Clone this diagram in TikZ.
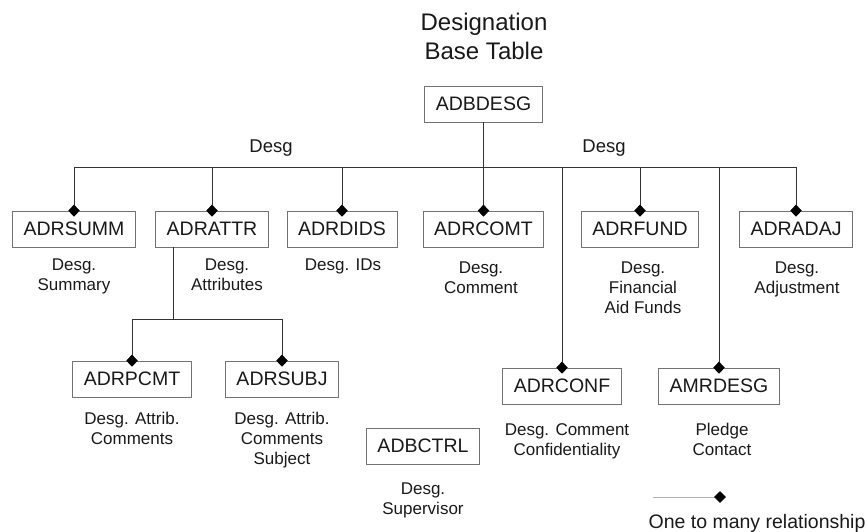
\documentclass[tikz,border=0pt]{standalone}
\usepackage{fontspec}
\setmainfont{Liberation Sans}
\usetikzlibrary{arrows.meta,calc}
\begin{document}
\begin{tikzpicture}[x=1pt,y=-1pt,
  table/.style={draw=black!55, line width=0.7pt, fill=white, minimum height=36pt,
    inner xsep=11pt, inner ysep=0pt, font=\fontsize{19.5}{22}\selectfont, text=black!90},
  caption/.style={anchor=north, inner sep=0pt, align=center,
    font=\fontsize{17}{20}\selectfont, text=black!90},
  link/.style={line width=0.8pt, draw=black!80},
  onemany/.style={link, -{Diamond[length=12pt,width=11.5pt,color=black]}, shorten >=-6pt},
]
\useasboundingbox (0,0) rectangle (867,531);

% title
\node[anchor=north, inner sep=0pt, align=center, font=\fontsize{24}{29}\selectfont, text=black!90]
  (title) at (484,13) {Designation\\Base Table};

% tables
\node[table] (desg) at (483.5,104) {ADBDESG};
\node[table] (summ) at (74,229)  {ADRSUMM};
\node[table] (attr) at (212,229) {ADRATTR};
\node[table] (dids) at (342,229) {ADRDIDS};
\node[table] (comt) at (483.5,229) {ADRCOMT};
\node[table] (fund) at (640,229) {ADRFUND};
\node[table] (adaj) at (796,229) {ADRADAJ};
\node[table] (pcmt) at (132,379) {ADRPCMT};
\node[table] (subj) at (282,379) {ADRSUBJ};
\node[table] (conf) at (562,386) {ADRCONF};
\node[table] (amr)  at (719,386) {AMRDESG};
\node[table] (ctrl) at (423,446) {ADBCTRL};

% captions
\node[caption] (csumm) at (74,259)  {Desg.\\Summary};
\node[caption] (cattr) at (227,259) {Desg.\\Attributes};
\node[caption] (cdids) at (343,259) {Desg. IDs};
\node[caption] (ccomt) at (481,262) {Desg.\\Comment};
\node[caption] (cfund) at (643,262) {Desg.\\Financial\\Aid Funds};
\node[caption] (cadaj) at (797,262) {Desg.\\Adjustment};
\node[caption] (cpcmt) at (132,412) {Desg. Attrib.\\Comments};
\node[caption] (csubj) at (282,412) {Desg. Attrib.\\Comments\\Subject};
\node[caption] (cconf) at (567,423) {Desg. Comment\\Confidentiality};
\node[caption] (camr)  at (722,423) {Pledge\\Contact};
\node[caption] (cctrl) at (423,483) {Desg.\\Supervisor};

% relationship labels
\node[caption, font=\fontsize{18.5}{20}\selectfont] (rl) at (271,140) {Desg};
\node[caption, font=\fontsize{18.5}{20}\selectfont] (rr) at (604,140) {Desg};

% base table to its dependents
\coordinate (bus) at (483.5,167);
\draw[link] (desg.south) -- (bus);
\draw[link] (summ.north |- bus) -- (adaj.north |- bus);
\foreach \t in {summ,attr,dids,comt,fund,adaj,conf,amr}
  \draw[onemany] (\t.north |- bus) -- (\t.north);

% attributes to their comments
\coordinate (attrdrop) at ([xshift=18pt]attr.south west);
\coordinate (attrbus) at (attrdrop |- 0,319);
\draw[link] (attrdrop) -- (attrbus);
\draw[link] (pcmt.north |- attrbus) -- (subj.north |- attrbus);
\foreach \t in {pcmt,subj}
  \draw[onemany] (\t.north |- attrbus) -- (\t.north);

% legend
\coordinate (lga) at (653,497);
\coordinate (lgb) at (720,497);
\draw[onemany, draw=gray!60] (lga) -- (lgb);
\node[caption, font=\fontsize{19.5}{20}\selectfont] (lgt) at (757,514) {One to many relationship};
\end{tikzpicture}
\end{document}
